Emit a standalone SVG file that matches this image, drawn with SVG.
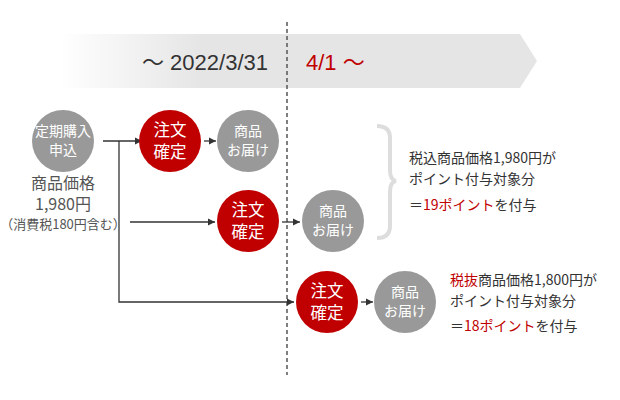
<svg xmlns="http://www.w3.org/2000/svg" width="620" height="400" viewBox="0 0 620 400">
<defs>
<linearGradient id="bg" x1="0" x2="1" y1="0" y2="0">
<stop offset="0" stop-color="#e6e5e6" stop-opacity="0"/>
<stop offset="0.3" stop-color="#e6e5e6"/>
<stop offset="1" stop-color="#e6e5e6"/>
</linearGradient>
<marker id="ah" markerWidth="8" markerHeight="8" refX="7" refY="4" orient="auto" markerUnits="userSpaceOnUse">
<path d="M0,0.5 L7,4 L0,7.5 Z" fill="#333"/>
</marker>
</defs>
<style>
text{font-family:"Noto Sans CJK JP","Noto Sans",sans-serif}
.g{fill:#999}
.r{fill:#c00000}
.ct{fill:#fff;font-size:14px;text-anchor:middle}
.cr{fill:#fff;font-size:16.5px;text-anchor:middle}
.c{stroke:#333;stroke-width:1.3;fill:none}
.t{fill:#333;font-size:14px}
.red{fill:#c00000}
.bn{font-size:22px;font-family:"Liberation Sans","Noto Sans CJK JP",sans-serif}
</style>
<path d="M60,34 H520 L537,61 L520,88 H60 Z" fill="url(#bg)"/>
<text class="bn" x="268" y="70" text-anchor="end" fill="#333">～ 2022/3/31</text>
<text class="bn" x="306" y="70" fill="#c00000">4/1 ～</text>
<line x1="287" y1="22" x2="287" y2="375" stroke="#555" stroke-width="1.5" stroke-dasharray="4,3"/>
<g id="connectors">
<path class="c" d="M103,141 H142" marker-end="url(#ah)"/>
<path class="c" d="M119,141 V302 H294" marker-end="url(#ah)"/>
<path class="c" d="M130,222 H215" marker-end="url(#ah)"/>
<path class="c" d="M204,141 H216" marker-end="url(#ah)"/>
<path class="c" d="M282,222 H300" marker-end="url(#ah)"/>
<path class="c" d="M361,302 H373" marker-end="url(#ah)"/>
</g>
<g id="n_apply"><circle cx="63" cy="141" r="31" class="g"/><text class="ct" x="63" y="136">定期購入</text><text class="ct" x="63" y="155">申込</text></g>
<g id="n_price"><text x="63" y="189" text-anchor="middle" font-size="16" fill="#555">商品価格</text><text x="63" y="210" text-anchor="middle" font-size="16" fill="#555">1,980円</text><text x="63" y="229" text-anchor="middle" font-size="13" fill="#555">（消費税180円含む）</text></g>
<g id="n_order1"><circle cx="170" cy="141" r="31" class="r"/><text class="cr" x="170" y="136">注文</text><text class="cr" x="170" y="158">確定</text></g>
<g id="n_deliv1"><circle cx="248" cy="141" r="31" class="g"/><text class="ct" x="248" y="136">商品</text><text class="ct" x="248" y="155">お届け</text></g>
<g id="n_order2"><circle cx="248" cy="221" r="31" class="r"/><text class="cr" x="248" y="216">注文</text><text class="cr" x="248" y="238">確定</text></g>
<g id="n_deliv2"><circle cx="333" cy="221" r="31" class="g"/><text class="ct" x="333" y="216">商品</text><text class="ct" x="333" y="235">お届け</text></g>
<g id="n_order3"><circle cx="327" cy="302" r="31" class="r"/><text class="cr" x="327" y="297">注文</text><text class="cr" x="327" y="319">確定</text></g>
<g id="n_deliv3"><circle cx="405" cy="302" r="31" class="g"/><text class="ct" x="405" y="297">商品</text><text class="ct" x="405" y="316">お届け</text></g>
<path d="M377,126 Q390,126 390,138 V170 Q390,180 396,181 Q390,182 390,192 V226 Q390,238 377,238" fill="none" stroke="#ddd" stroke-width="4"/>
<g id="n_note1"><text class="t" x="409" y="163">税込商品価格1,980円が</text><text class="t" x="409" y="184">ポイント付与対象分</text><text class="t" x="409" y="210">＝<tspan class="red">19ポイント</tspan>を付与</text></g>
<g id="n_note2"><text class="t" x="450" y="285"><tspan class="red">税抜</tspan>商品価格1,800円が</text><text class="t" x="450" y="306">ポイント付与対象分</text><text class="t" x="450" y="331">＝<tspan class="red">18ポイント</tspan>を付与</text></g>
</svg>
